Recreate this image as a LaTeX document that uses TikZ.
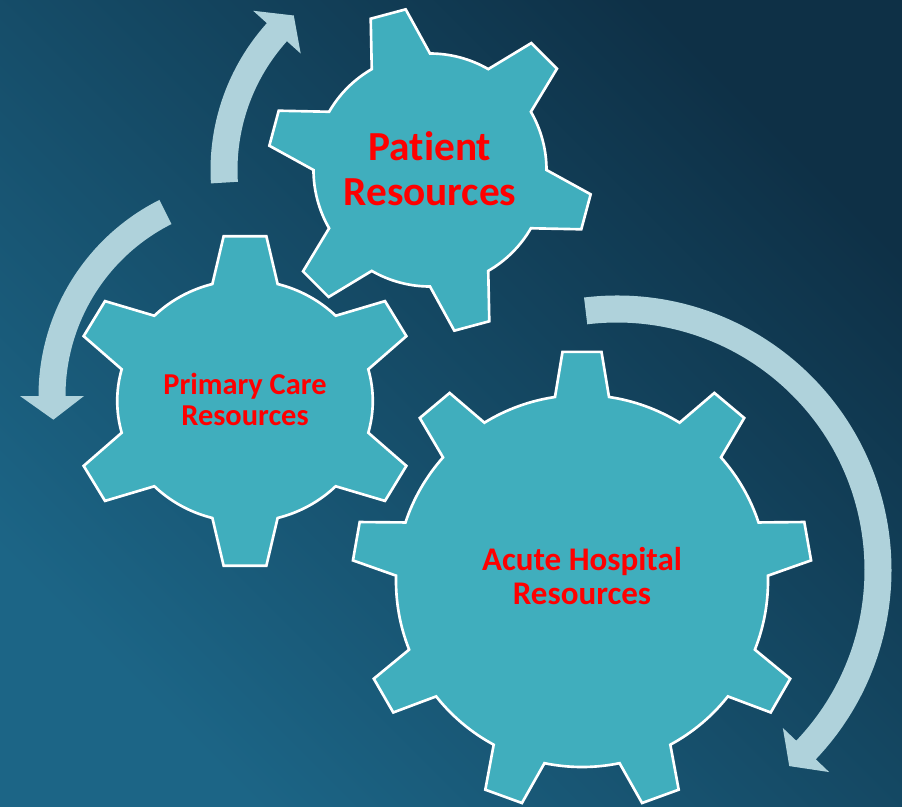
\documentclass[tikz,border=0pt]{standalone}
\usepackage{fontspec}
\setmainfont[Ligatures=NoCommon]{Carlito}
\usepackage{tikz}

\definecolor{gearteal}{HTML}{40AEBD}
\definecolor{arrowpale}{HTML}{AFD2DB}
\definecolor{bglight}{HTML}{1C6586}
\definecolor{bgdark}{HTML}{0E3046}

\tikzset{
    gearbody/.style={draw=white, fill=gearteal, line width=1.5pt, line join=miter},
    cyclearrow/.style={fill=arrowpale, draw=none},
    gearlabel/.style={text=red, align=center, inner sep=0pt},
}

% teeth, first tooth angle, body radius, tip radius, half angle at base, half angle at tip
\newcommand{\gearoutline}[6]{
    \pgfmathsetmacro\gearstep{360/#1}
    \pgfmathtruncatemacro\gearlast{#1-1}
    \draw[gearbody] ({#2-#5}:#3) \foreach \k in {0,...,\gearlast} {
        -- ({#2+\gearstep*\k-#6}:#4) -- ({#2+\gearstep*\k+#6}:#4) -- ({#2+\gearstep*\k+#5}:#3)
        arc[start angle={#2+\gearstep*\k+#5}, end angle={#2+\gearstep*(\k+1)-#5}, radius=#3]
    } -- cycle;
}

% start angle, end angle, tip angle, radius
\newcommand{\turnarrow}[4]{
    \fill[cyclearrow] ({#1}:{#4+13.5}) arc[start angle={#1}, end angle={#2}, radius={#4+13.5}]
        -- ({#2}:{#4+32}) -- ({#3}:{#4}) -- ({#2}:{#4-32}) -- ({#2}:{#4-13.5})
        arc[start angle={#2}, end angle={#1}, radius={#4-13.5}] -- cycle;
}

\begin{document}
\begin{tikzpicture}[x=0.02cm, y=0.02cm]
	\useasboundingbox (0,0) rectangle (902,-806);
	\shade[bottom color=bglight, top color=bgdark, shading angle=-45] (0,0) rectangle (902,-806);
	% arrows
\begin{scope}[shift={(430,-170)}]
	\turnarrow{183.5}{138}{131.4}{206}
\end{scope}
\begin{scope}[shift={(258,-396)}]
	\turnarrow{116.7}{180}{186.6}{206}
\end{scope}
\begin{scope}[shift={(617,-570)}]
	\turnarrow{96.9}{-43.6}{-48.7}{261}
\end{scope}
	% gears
\begin{scope}[shift={(430,-170)}]
	\gearoutline{6}{105}{116.5}{162.5}{15}{6.4}
\end{scope}
\begin{scope}[shift={(245,-401)}, xscale=1.056]
	\gearoutline{6}{90}{121}{166}{14.8}{7}
\end{scope}
\begin{scope}[shift={(582,-581)}]
	\gearoutline{9}{90}{186}{230}{8.35}{4.86}
\end{scope}
	\node[gearlabel, font=\bfseries\fontsize{23.5}{25.9}\selectfont] (patient) at (430,-168.7) {Patient\\Resources};
	\node[gearlabel, font=\bfseries\fontsize{17.3}{17.9}\selectfont] (primary) at (245,-399.3) {Primary Care\\Resources};
	\node[gearlabel, font=\bfseries\fontsize{18.8}{19.8}\selectfont] (acute) at (582,-576) {Acute Hospital\\Resources};
\end{tikzpicture}
\end{document}
